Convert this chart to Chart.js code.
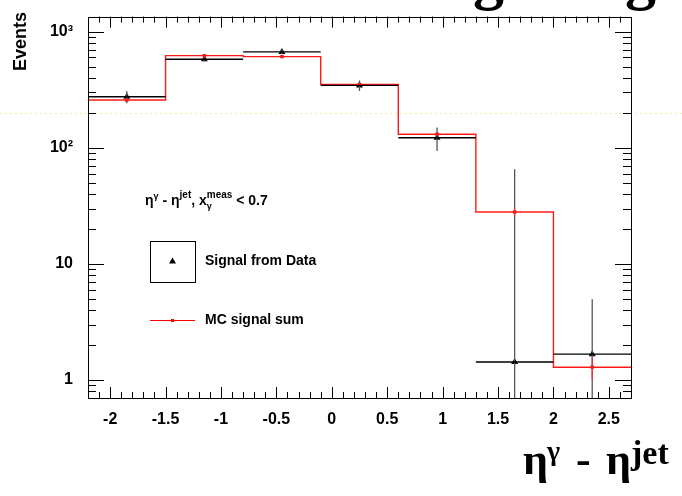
<!DOCTYPE html>
<html>
<head>
<meta charset="utf-8">
<script src="https://cdn.jsdelivr.net/npm/chart.js@4.4.1/dist/chart.umd.min.js"></script>
<style>
  html, body { margin: 0; padding: 0; background: #fff; }
  #wrap { width: 682px; height: 496px; position: relative; }
</style>
</head>
<body>
<div id="wrap"><canvas id="chart"></canvas></div>
<script>
// bins of eta(gamma) - eta(jet), width 0.7
const binEdges = [-2.2, -1.5, -0.8, -0.1, 0.6, 1.3, 2.0, 2.7];
const dataValues = [275, 580, 670, 345, 122, 1.43, 1.67];
const dataErrors = [33, 25, 30, 36, 28, 64, 3.3];
const mcValues = [258, 622, 610, 352, 131, 28, 1.29];
const mcErrors = [10, 18, 16, 10, 5, 2, 0.28];
const xTicks = [-2, -1.5, -1, -0.5, 0, 0.5, 1, 1.5, 2, 2.5];
const yTicks = [1, 10, 100, 1000];
const yTickLabels = ['1', '10', '10²', '10³'];
const Y_MIN = 0.72;
const Y_MAX = 1350;
const SCAN_LINE_LEVEL = 198; // faint yellow dotted stripe across the picture

const SANS = '"Liberation Sans", Arial, sans-serif';
const SERIF = '"Liberation Serif", "Times New Roman", serif';

const centers = dataValues.map((_, i) => (binEdges[i] + binEdges[i + 1]) / 2);

function stepPoints(values) {
  const pts = values.map((v, i) => ({ x: binEdges[i], y: v }));
  pts.push({ x: binEdges[binEdges.length - 1], y: values[values.length - 1] });
  return pts;
}

function horizontalBars(values) {
  const pts = [];
  values.forEach((v, i) => {
    pts.push({ x: binEdges[i], y: v }, { x: binEdges[i + 1], y: v }, { x: binEdges[i + 1], y: null });
  });
  return pts;
}

function verticalBars(values, errors) {
  const pts = [];
  values.forEach((v, i) => {
    const lo = Math.max(v - errors[i], Y_MIN * 0.5);
    pts.push({ x: centers[i], y: lo }, { x: centers[i], y: v + errors[i] }, { x: centers[i], y: null });
  });
  return pts;
}

function drawRich(ctx, parts, x, y) {
  let cx = x;
  parts.forEach((p) => {
    ctx.font = `bold ${p.size}px ${p.family || SANS}`;
    ctx.fillText(p.text, cx, y + (p.dy || 0));
    if (!p.noAdvance) cx += ctx.measureText(p.text).width;
  });
}

const decorations = {
  id: 'decorations',
  beforeDatasetsDraw(chart) {
    const { ctx, scales: { y } } = chart;
    const py = Math.round(y.getPixelForValue(SCAN_LINE_LEVEL)) + 0.5;
    ctx.save();
    ctx.strokeStyle = 'rgba(240, 232, 60, 0.55)';
    ctx.lineWidth = 1;
    ctx.setLineDash([2, 3]);
    ctx.beginPath();
    ctx.moveTo(0, py);
    ctx.lineTo(chart.width, py);
    ctx.stroke();
    ctx.restore();
  },
  afterDraw(chart) {
    const { ctx, chartArea: a, scales: { x, y } } = chart;
    ctx.save();
    ctx.strokeStyle = '#000';
    ctx.fillStyle = '#000';
    ctx.lineWidth = 1;

    // frame
    ctx.strokeRect(Math.round(a.left) + 0.5, Math.round(a.top) + 0.5,
      Math.round(a.right - a.left), Math.round(a.bottom - a.top));

    // x ticks, bottom and top
    ctx.beginPath();
    for (let k = -21; k <= 26; k++) {
      const px = Math.round(x.getPixelForValue(k / 10)) + 0.5;
      const len = k % 5 === 0 ? 11 : 6;
      ctx.moveTo(px, a.bottom);
      ctx.lineTo(px, a.bottom - len);
      ctx.moveTo(px, a.top);
      ctx.lineTo(px, a.top + len);
    }
    // y ticks, left and right
    for (let d = -1; d <= 3; d++) {
      for (let m = 1; m <= 9; m++) {
        const v = m * Math.pow(10, d);
        if (v <= Y_MIN || v >= Y_MAX) continue;
        const py = Math.round(y.getPixelForValue(v)) + 0.5;
        const len = m === 1 ? 16 : 8;
        ctx.moveTo(a.left, py);
        ctx.lineTo(a.left + len, py);
        ctx.moveTo(a.right, py);
        ctx.lineTo(a.right - len, py);
      }
    }
    ctx.stroke();

    // y axis title
    ctx.save();
    ctx.translate(21.5, 12);
    ctx.rotate(-Math.PI / 2);
    ctx.font = `bold 18px ${SANS}`;
    ctx.textAlign = 'right';
    ctx.textBaseline = 'middle';
    ctx.fillText('Events', 0, 0);
    ctx.restore();

    // clipped title above the frame
    ctx.font = `bold 62px ${SERIF}`;
    ctx.textAlign = 'left';
    ctx.textBaseline = 'alphabetic';
    ctx.fillText('g', 473, -2);
    ctx.fillText('g', 625, -2);

    // x axis title
    ctx.font = `bold 44px ${SERIF}`;
    ctx.fillText('η', 523, 474);
    ctx.fillText('-', 576, 474);
    ctx.fillText('η', 606, 474);
    ctx.font = `bold 28px ${SERIF}`;
    ctx.fillText('γ', 547, 460);
    ctx.font = `bold 34px ${SERIF}`;
    ctx.fillText('jet', 631, 464);

    // selection text
    drawRich(ctx, [
      { text: 'η', size: 14 },
      { text: 'γ', size: 9, dy: -6 },
      { text: ' - η', size: 14 },
      { text: 'jet', size: 10, dy: -7 },
      { text: ', x', size: 14 },
      { text: 'γ', size: 9, dy: 4, noAdvance: true },
      { text: 'meas', size: 10, dy: -7 },
      { text: ' < 0.7', size: 14 },
    ], 145, 205);

    // legend
    ctx.strokeStyle = '#000';
    ctx.strokeRect(150.5, 241.5, 45, 41);
    ctx.beginPath();
    ctx.moveTo(172.5, 257.5);
    ctx.lineTo(176, 263.5);
    ctx.lineTo(169, 263.5);
    ctx.closePath();
    ctx.fill();

    ctx.strokeStyle = '#ff0000';
    ctx.beginPath();
    ctx.moveTo(150, 320.5);
    ctx.lineTo(195, 320.5);
    ctx.stroke();
    ctx.fillStyle = '#ff0000';
    ctx.fillRect(171, 319, 3, 3);

    ctx.fillStyle = '#000';
    ctx.font = `bold 14px ${SANS}`;
    ctx.textBaseline = 'middle';
    ctx.fillText('Signal from Data', 205, 261.5);
    ctx.fillText('MC signal sum', 205, 320.5);
    ctx.restore();
  },
};

const ctx = document.getElementById('chart');

new Chart(ctx, {
  type: 'scatter',
  data: {
    datasets: [
      {
        label: 'Signal from Data x-bars',
        data: horizontalBars(dataValues),
        showLine: true,
        borderColor: '#000',
        borderWidth: 1.4,
        pointRadius: 0,
        clip: 0,
      },
      {
        label: 'MC signal sum',
        data: stepPoints(mcValues),
        showLine: true,
        stepped: 'before',
        borderColor: '#ff1a1a',
        borderWidth: 1.4,
        pointRadius: 0,
        clip: 0,
      },
      {
        label: 'MC errors',
        data: verticalBars(mcValues, mcErrors),
        showLine: true,
        borderColor: '#ff3030',
        borderWidth: 1.2,
        pointRadius: 0,
        clip: 0,
      },
      {
        label: 'Data errors',
        data: verticalBars(dataValues, dataErrors),
        showLine: true,
        borderColor: '#555',
        borderWidth: 1.3,
        pointRadius: 0,
        clip: 0,
      },
      {
        label: 'MC markers',
        data: mcValues.map((v, i) => ({ x: centers[i], y: v })),
        pointStyle: 'rect',
        pointRadius: 2.4,
        backgroundColor: '#ff0000',
        borderColor: '#ff0000',
        borderWidth: 0,
      },
      {
        label: 'Signal from Data',
        data: dataValues.map((v, i) => ({ x: centers[i], y: v })),
        pointStyle: 'triangle',
        pointRadius: 4,
        backgroundColor: '#000',
        borderColor: '#000',
        borderWidth: 0,
      },
    ],
  },
  options: {
    responsive: true,
    maintainAspectRatio: false,
    animation: false,
    events: [],
    layout: { padding: { top: 13, right: 51, left: 0, bottom: 0 } },
    plugins: {
      legend: { display: false },
      tooltip: { enabled: false },
    },
    scales: {
      x: {
        type: 'linear',
        min: binEdges[0],
        max: binEdges[binEdges.length - 1],
        grid: { display: false },
        border: { display: false },
        afterBuildTicks: (scale) => { scale.ticks = xTicks.map((v) => ({ value: v })); },
        afterFit: (scale) => { scale.height = 98; },
        ticks: {
          autoSkip: false,
          maxRotation: 0,
          padding: 4,
          color: '#000',
          font: { family: SANS, size: 16, weight: 'bold' },
          callback: (v) => String(v),
        },
      },
      y: {
        type: 'logarithmic',
        min: Y_MIN,
        max: Y_MAX,
        grid: { display: false },
        border: { display: false },
        afterBuildTicks: (scale) => { scale.ticks = yTicks.map((v) => ({ value: v })); },
        afterFit: (scale) => { scale.width = 88; },
        ticks: {
          autoSkip: false,
          padding: 7,
          color: '#000',
          font: { family: SANS, size: 16, weight: 'bold' },
          callback: (v) => {
            const idx = yTicks.indexOf(v);
            return idx >= 0 ? yTickLabels[idx] : '';
          },
        },
      },
    },
  },
  plugins: [decorations],
});
</script>
</body>
</html>
